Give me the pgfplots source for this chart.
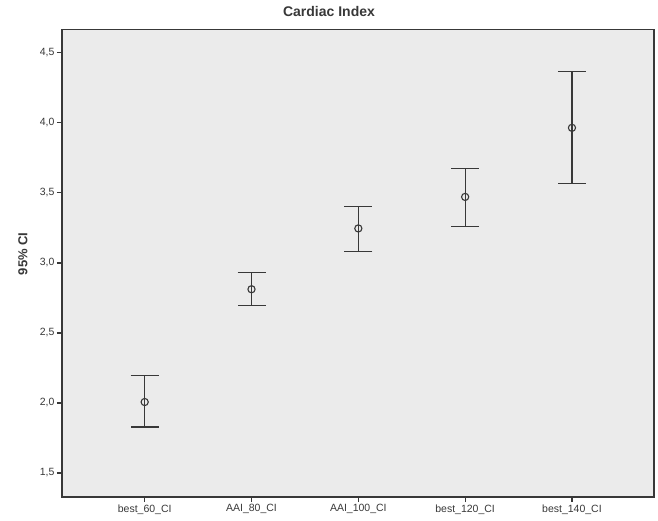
\documentclass[border=0pt]{standalone}
\usepackage{pgfplots}
\pgfplotsset{compat=1.18}
\usepackage{pgfplotstable}
\usepackage{fontspec}
\setmainfont{Liberation Sans}
\definecolor{bgc}{HTML}{EBEBEB}
\definecolor{ink}{HTML}{383838}
\pgfplotstableread{
x  y      ep     em
0  2.007  0.191  0.178
1  2.812  0.117  0.114
2  3.246  0.154  0.162
3  3.471  0.203  0.209
4  3.964  0.400  0.397
}\datatab
\begin{document}
\begin{tikzpicture}
\begin{axis}[
  scale only axis,
  width=592pt, height=467.5pt,
  xmin=-0.774, xmax=4.768,
  ymin=1.329, ymax=4.666,
  axis background/.style={fill=bgc},
  axis line style={draw=ink, line width=1.6pt},
  xtick={0,1,2,3,4},
  xticklabels={best\_60\_CI, AAI\_80\_CI, AAI\_100\_CI, best\_120\_CI, best\_140\_CI},
  ytick={1.5,2,2.5,3,3.5,4,4.5},
  tick align=outside,
  major tick length=5pt,
  tick style={draw=ink, line width=1.2pt},
  xtick pos=bottom, ytick pos=left,
  /pgf/number format/.cd, use comma, fixed, fixed zerofill, precision=1, assume math mode=true,
  /pgfplots/.cd,
  ticklabel style={font=\fontsize{10.5}{12}\selectfont, text=ink},
  yticklabel style={xshift=1pt},
  xticklabel style={yshift=1pt},
  title={Cardiac Index},
  title style={font=\fontsize{14}{16}\selectfont\bfseries, text=ink, at={(rel axis cs:0.5,1)}, anchor=base, yshift=6.5pt, xshift=-29pt},
  ylabel={95\% CI},
  ylabel style={font=\fontsize{13}{15}\selectfont\bfseries, text=ink, at={(rel axis cs:0,0.52)}, anchor=center, yshift=39pt},
  clip=false,
]
\addplot[ink, line width=1.1pt, only marks, mark=o, mark size=3.6pt,
  error bars/.cd, y dir=both, y explicit,
  error bar style={line width=1.1pt, ink},
  error mark options={line width=1.1pt, ink, mark size=14pt, rotate=90}]
  table[x=x, y=y, y error plus=ep, y error minus=em] {\datatab};
\path (rel axis cs:0,0) ++(-62pt,-23pt) coordinate (bbl);
\path (rel axis cs:1,1) ++(4pt,29.5pt) coordinate (bbr);
\end{axis}
\useasboundingbox (bbl) rectangle (bbr);
\end{tikzpicture}
\end{document}
